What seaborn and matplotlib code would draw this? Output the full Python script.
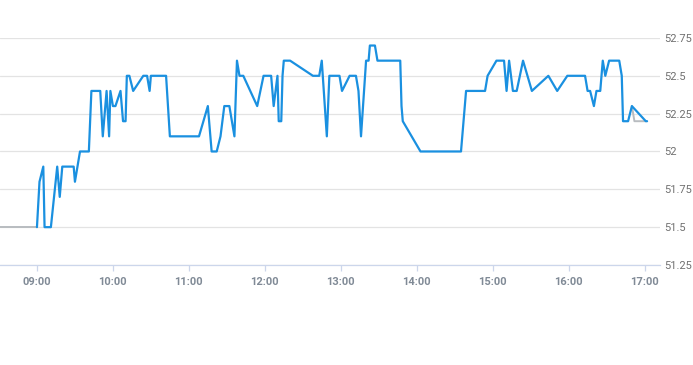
import matplotlib
matplotlib.use("Agg")
import matplotlib.pyplot as plt
import seaborn as sns
import pandas as pd

# ---- data ----
times = ["09:00", "09:02", "09:05", "09:06", "09:11", "09:16", "09:18", "09:20", "09:29", "09:30",
         "09:34", "09:41", "09:43", "09:50", "09:52", "09:55", "09:57", "09:58", "10:00", "10:02",
         "10:06", "10:08", "10:10", "10:11", "10:13", "10:16", "10:24", "10:27", "10:29", "10:30",
         "10:42", "10:45", "11:08", "11:15", "11:18", "11:22", "11:25", "11:28", "11:32", "11:36",
         "11:38", "11:40", "11:43", "11:54", "11:59", "12:05", "12:07", "12:10", "12:11", "12:13",
         "12:14", "12:15", "12:20", "12:38", "12:43", "12:45", "12:49", "12:51", "12:59", "13:01",
         "13:07", "13:12", "13:14", "13:16", "13:20", "13:22", "13:23", "13:27", "13:29", "13:47",
         "13:48", "13:49", "14:03", "14:35", "14:39", "14:54", "14:56", "15:03", "15:09", "15:11",
         "15:13", "15:16", "15:19", "15:24", "15:31", "15:44", "15:51", "15:59", "16:13", "16:15",
         "16:17", "16:20", "16:22", "16:25", "16:27", "16:29", "16:32", "16:40", "16:42", "16:43",
         "16:47", "16:50", "17:01", "17:02"]
prices = [51.5, 51.8, 51.9, 51.5, 51.5, 51.9, 51.7, 51.9, 51.9, 51.8,
          52.0, 52.0, 52.4, 52.4, 52.1, 52.4, 52.1, 52.4, 52.3, 52.3,
          52.4, 52.2, 52.2, 52.5, 52.5, 52.4, 52.5, 52.5, 52.4, 52.5,
          52.5, 52.1, 52.1, 52.3, 52.0, 52.0, 52.1, 52.3, 52.3, 52.1,
          52.6, 52.5, 52.5, 52.3, 52.5, 52.5, 52.3, 52.5, 52.2, 52.2,
          52.5, 52.6, 52.6, 52.5, 52.5, 52.6, 52.1, 52.5, 52.5, 52.4,
          52.5, 52.5, 52.4, 52.1, 52.6, 52.6, 52.7, 52.7, 52.6, 52.6,
          52.3, 52.2, 52.0, 52.0, 52.4, 52.4, 52.5, 52.6, 52.6, 52.4,
          52.6, 52.4, 52.4, 52.6, 52.4, 52.5, 52.4, 52.5, 52.5, 52.4,
          52.4, 52.3, 52.4, 52.4, 52.6, 52.5, 52.6, 52.6, 52.5, 52.2,
          52.2, 52.3, 52.2, 52.2]

pre_times = ["08:31", "09:00"]
pre_prices = [51.5, 51.5]
tail_times = ["16:50", "16:52", "17:01"]
tail_prices = [52.3, 52.2, 52.2]

x_tick_labels = ["09:00", "10:00", "11:00", "12:00", "13:00", "14:00", "15:00", "16:00", "17:00"]
y_ticks = [51.25, 51.5, 51.75, 52.0, 52.25, 52.5, 52.75]
y_tick_labels = ["51.25", "51.5", "51.75", "52", "52.25", "52.5", "52.75"]


def to_h(t):
    h, m = t.split(":")
    return int(h) + int(m) / 60.0


main_df = pd.DataFrame({"t": [to_h(t) for t in times], "p": prices})
pre_df = pd.DataFrame({"t": [to_h(t) for t in pre_times], "p": pre_prices})
tail_df = pd.DataFrame({"t": [to_h(t) for t in tail_times], "p": tail_prices})

sns.set_theme(style="white")
plt.rcParams["font.family"] = ["Roboto", "DejaVu Sans"]

fig = plt.figure(figsize=(6.93, 3.65), dpi=100)
ax = fig.add_axes([0.0, 0.274, 0.952, 0.622])

sns.lineplot(data=pre_df, x="t", y="p", ax=ax, color="#b8bcc0", linewidth=1.4, zorder=2)
sns.lineplot(data=tail_df, x="t", y="p", ax=ax, color="#b8bcc0", linewidth=1.4, zorder=2)
sns.lineplot(data=main_df, x="t", y="p", ax=ax, color="#1a90e0", linewidth=1.6, zorder=3)

ax.set_xlim(8 + 30.8 / 60, 17.2)
ax.set_ylim(51.25, 52.75)

ax.set_xticks([to_h(t) for t in x_tick_labels])
ax.set_xticklabels(x_tick_labels)
ax.set_yticks(y_ticks)
ax.set_yticklabels(y_tick_labels)
ax.yaxis.tick_right()

ax.grid(axis="y", color="#e3e3e3", linewidth=0.9)
ax.grid(axis="x", visible=False)
ax.set_axisbelow(True)

for s in ["top", "left", "right"]:
    ax.spines[s].set_visible(False)
ax.spines["bottom"].set_color("#ccd6eb")
ax.spines["bottom"].set_linewidth(0.9)

ax.tick_params(axis="x", colors="#ccd6eb", length=4, width=0.9, pad=5, labelsize=8,
               labelcolor="#808a96", bottom=True)
ax.tick_params(axis="y", length=0, pad=3, labelsize=8, labelcolor="#707070")
for lbl in ax.get_xticklabels():
    lbl.set_fontweight("bold")

ax.set_xlabel("")
ax.set_ylabel("")
fig.savefig("out.png", dpi=100)
